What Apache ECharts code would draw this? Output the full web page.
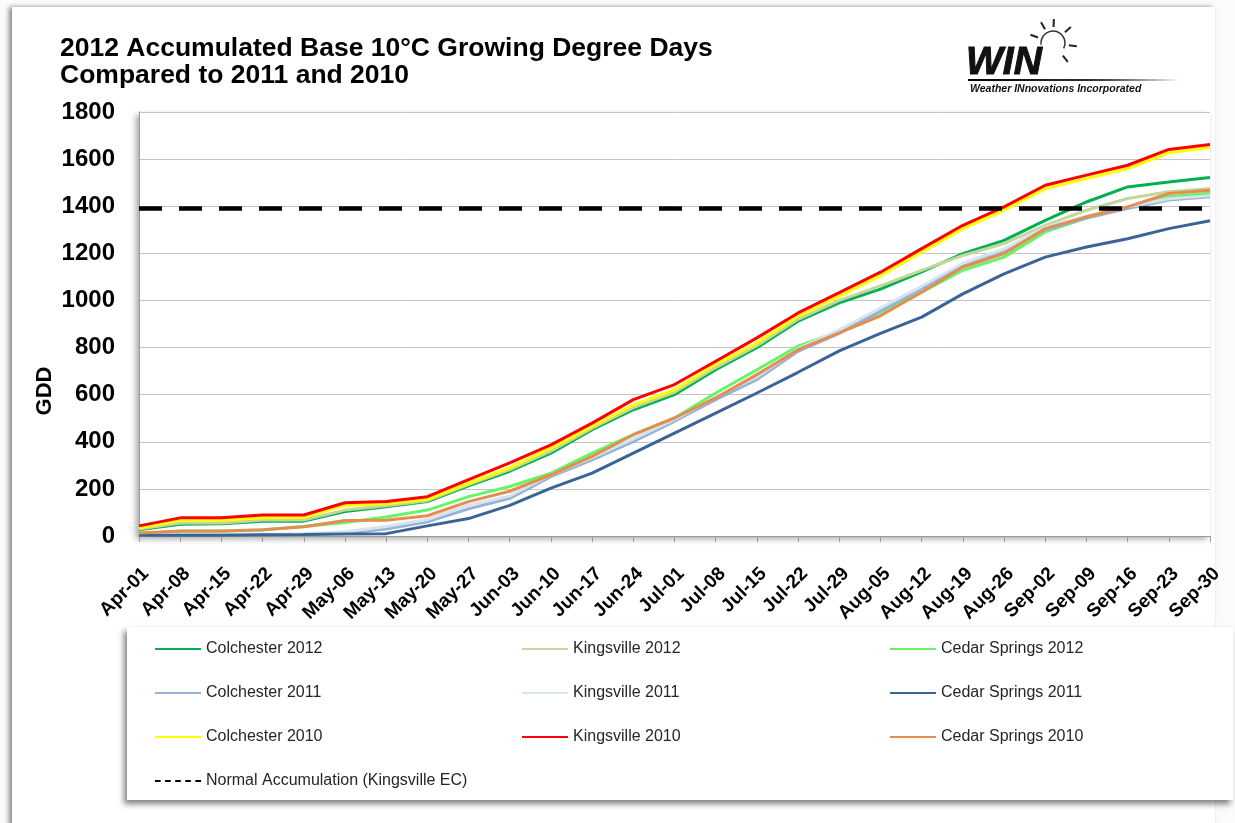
<!DOCTYPE html>
<html>
<head>
<meta charset="utf-8">
<title>2012 Accumulated Base 10°C Growing Degree Days</title>
<script src="https://cdn.jsdelivr.net/npm/echarts@6/dist/echarts.min.js"></script>
<style>
  html, body { margin: 0; padding: 0; background: #fbfbfb; }
  #chart { width: 1235px; height: 823px; }
</style>
</head>
<body>
<div id="chart"></div>
<script>
// weekly tick labels (Apr-01 .. Sep-30)
const weeks = ['Apr-01', 'Apr-08', 'Apr-15', 'Apr-22', 'Apr-29', 'May-06', 'May-13', 'May-20', 'May-27',
  'Jun-03', 'Jun-10', 'Jun-17', 'Jun-24', 'Jul-01', 'Jul-08', 'Jul-15', 'Jul-22', 'Jul-29',
  'Aug-05', 'Aug-12', 'Aug-19', 'Aug-26', 'Sep-02', 'Sep-09', 'Sep-16', 'Sep-23', 'Sep-30'];

// accumulated GDD
const colchester2012 = [27, 50, 52, 63, 63, 104, 124, 146, 213, 275, 352, 451, 536, 600, 706, 799, 912, 990, 1048, 1121, 1199, 1255, 1340, 1418, 1482, 1503, 1522];
const kingsville2012 = [30, 55, 55, 68, 68, 110, 128, 150, 218, 282, 360, 458, 545, 610, 715, 808, 920, 1000, 1062, 1128, 1191, 1241, 1319, 1383, 1433, 1461, 1475];
const cedarSprings2012 = [10, 20, 20, 25, 40, 57, 81, 110, 167, 210, 267, 352, 430, 501, 607, 706, 806, 869, 950, 1035, 1128, 1184, 1291, 1350, 1395, 1440, 1455];
const colchester2011 = [3, 4, 4, 6, 7, 12, 30, 60, 115, 160, 252, 323, 401, 487, 579, 664, 784, 860, 955, 1050, 1150, 1210, 1300, 1350, 1390, 1426, 1440];
const kingsville2011 = [5, 6, 6, 8, 10, 18, 40, 70, 130, 170, 260, 333, 412, 495, 590, 675, 795, 875, 968, 1060, 1158, 1218, 1310, 1358, 1398, 1432, 1445];
const cedarSprings2011 = [3, 3, 3, 5, 6, 8, 10, 43, 74, 130, 203, 267, 352, 437, 522, 607, 695, 786, 860, 929, 1028, 1113, 1184, 1227, 1262, 1305, 1338];
const colchester2010 = [34, 67, 67, 77, 79, 130, 137, 156, 224, 290, 373, 465, 557, 621, 728, 820, 933, 1018, 1105, 1206, 1305, 1383, 1475, 1518, 1560, 1627, 1650];
const kingsville2010 = [43, 77, 77, 89, 89, 141, 146, 167, 239, 310, 387, 479, 579, 643, 742, 841, 947, 1033, 1120, 1220, 1319, 1397, 1489, 1532, 1574, 1641, 1662];
const cedarSprings2010 = [13, 21, 21, 27, 39, 66, 67, 86, 146, 190, 260, 338, 430, 501, 586, 685, 791, 862, 935, 1035, 1142, 1199, 1305, 1355, 1397, 1454, 1468];
const normalKingsvilleEC = [1390, 1390, 1390, 1390, 1390, 1390, 1390, 1390, 1390, 1390, 1390, 1390, 1390, 1390,
  1390, 1390, 1390, 1390, 1390, 1390, 1390, 1390, 1390, 1390, 1390, 1390, 1390];

const yTicks = [0, 200, 400, 600, 800, 1000, 1200, 1400, 1600, 1800];

const lines = [
  ['Colchester 2012', colchester2012, '#00b050'],
  ['Kingsville 2012', kingsville2012, '#c3d69b'],
  ['Cedar Springs 2012', cedarSprings2012, '#66f566'],
  ['Colchester 2011', colchester2011, '#95b3d7'],
  ['Kingsville 2011', kingsville2011, '#d6e3f0'],
  ['Cedar Springs 2011', cedarSprings2011, '#3b6496'],
  ['Colchester 2010', colchester2010, '#ffff00'],
  ['Kingsville 2010', kingsville2010, '#ff0000'],
  ['Cedar Springs 2010', cedarSprings2010, '#e58c4f']
];
const normalName = 'Normal Accumulation (Kingsville EC)';

const FONT = "'Liberation Sans', Arial, sans-serif";

const series = lines.map(([name, data, color]) => ({
  name: name,
  type: 'line',
  data: data,
  symbol: 'none',
  color: color,
  lineStyle: { width: 3, color: color }
}));
series.push({
  name: normalName,
  type: 'line',
  data: normalKingsvilleEC,
  symbol: 'none',
  color: '#000',
  lineStyle: { width: 4.5, color: '#000', type: [23, 17] }
});

// legend in three columns, like the original box
const legendCommon = {
  orient: 'vertical',
  top: 636,
  itemGap: 28,
  itemWidth: 46,
  itemHeight: 14,
  icon: 'path://M0,6 L46,6 L46,8 L0,8 Z',
  textStyle: { fontFamily: FONT, fontSize: 16, color: '#262626', lineHeight: 16 }
};
const col = (names, left) => Object.assign({}, legendCommon, {
  left: left,
  data: names.map(n => ({ name: n }))
});
const legends = [
  col(['Colchester 2012', 'Colchester 2011', 'Colchester 2010'], 150),
  col(['Kingsville 2012', 'Kingsville 2011', 'Kingsville 2010'], 517),
  col(['Cedar Springs 2012', 'Cedar Springs 2011', 'Cedar Springs 2010'], 885),
  Object.assign({}, legendCommon, {
    left: 150, top: 768,
    data: [{ name: normalName, icon: 'path://M0,6 L5,6 L5,8 L0,8 Z M9,6 L14,6 L14,8 L9,8 Z M18,6 L23,6 L23,8 L18,8 Z M27,6 L32,6 L32,8 L27,8 Z M36,6 L41,6 L41,8 L36,8 Z' }]
  })
];

// logo sun rays
const sunCx = 1053, sunCy = 43;
const rayAngles = [160, 120, 88, 42, -8, -52];
const rays = rayAngles.map(a => {
  const r = a * Math.PI / 180;
  return {
    type: 'line',
    shape: {
      x1: sunCx + 16 * Math.cos(r), y1: sunCy - 16 * Math.sin(r),
      x2: sunCx + 24 * Math.cos(r), y2: sunCy - 24 * Math.sin(r)
    },
    style: { stroke: '#222', lineWidth: 2 },
    z: 10
  };
});

const chart = echarts.init(document.getElementById('chart'));
chart.setOption({
  animation: false,
  backgroundColor: '#fbfbfb',
  title: {
    text: '2012 Accumulated Base 10°C Growing Degree Days\nCompared to 2011 and 2010',
    left: 55,
    top: 30,
    textStyle: { fontFamily: FONT, fontSize: 26.5, fontWeight: 'bold', color: '#000', lineHeight: 27 }
  },
  legend: legends,
  grid: {
    left: 139, right: 25, top: 112, bottom: 287,
    show: true,
    backgroundColor: '#fff',
    borderWidth: 0,
    shadowColor: 'rgba(0,0,0,0.35)',
    shadowBlur: 6,
    shadowOffsetX: -3,
    shadowOffsetY: 3
  },
  xAxis: {
    type: 'category',
    data: weeks,
    boundaryGap: false,
    axisLine: { lineStyle: { color: '#9a9a9a', width: 1 } },
    axisTick: { show: true, interval: 0, length: 6, lineStyle: { color: '#9a9a9a' } },
    axisLabel: {
      interval: 0,
      rotate: 45,
      margin: 28,
      verticalAlign: 'top',
      fontFamily: FONT,
      fontSize: 19,
      fontWeight: 'bold',
      color: '#000'
    },
    splitLine: { show: false }
  },
  yAxis: {
    type: 'value',
    min: yTicks[0],
    max: yTicks[yTicks.length - 1],
    interval: 200,
    axisLine: { show: true, lineStyle: { color: '#9a9a9a' } },
    axisTick: { show: false },
    axisLabel: {
      margin: 24, fontFamily: FONT, fontSize: 24, fontWeight: 'bold', color: '#000',
      formatter: v => String(v)
    },
    splitLine: { lineStyle: { color: '#c4c4c4', width: 1 } }
  },
  graphic: [
    {
      type: 'rect',
      shape: { x: 12, y: 7, width: 1203, height: 830 },
      style: { fill: '#fff', shadowColor: 'rgba(0,0,0,0.45)', shadowBlur: 5, shadowOffsetX: -3 },
      z: -10, silent: true
    },
    {
      type: 'rect',
      shape: { x: 127, y: 627, width: 1106, height: 173 },
      style: { fill: '#fff', shadowColor: 'rgba(0,0,0,0.5)', shadowBlur: 6, shadowOffsetX: -3, shadowOffsetY: 4 },
      z: 1, silent: true
    },
    {
      type: 'text',
      x: 45, y: 391,
      rotation: Math.PI / 2,
      style: { text: 'GDD', fontFamily: FONT, fontSize: 22, fontWeight: 'bold', fill: '#000', align: 'center', verticalAlign: 'middle' },
      z: 10
    },
    // logo
    {
      type: 'text',
      x: 966, y: 44,
      style: { text: 'WIN', fontFamily: FONT, fontSize: 39, fontWeight: 900, fontStyle: 'italic', fill: '#111', stroke: '#111', lineWidth: 1 },
      z: 10
    },
    {
      type: 'arc',
      shape: { cx: sunCx, cy: sunCy, r: 12, startAngle: Math.PI * 0.95, endAngle: Math.PI * 2.15, clockwise: true },
      style: { stroke: '#333', lineWidth: 1.5, fill: null },
      z: 10
    },
    ...rays,
    {
      type: 'rect',
      shape: { x: 968, y: 79, width: 212, height: 2 },
      style: {
        fill: new echarts.graphic.LinearGradient(0, 0, 1, 0, [
          { offset: 0, color: '#000' }, { offset: 0.6, color: '#333' }, { offset: 1, color: 'rgba(0,0,0,0)' }
        ])
      },
      z: 10
    },
    {
      type: 'text',
      x: 970, y: 84,
      style: { text: 'Weather INnovations Incorporated', fontFamily: FONT, fontSize: 10.5, fontWeight: 'bold', fontStyle: 'italic', fill: '#111' },
      z: 10
    }
  ],
  series: series
});
</script>
</body>
</html>
